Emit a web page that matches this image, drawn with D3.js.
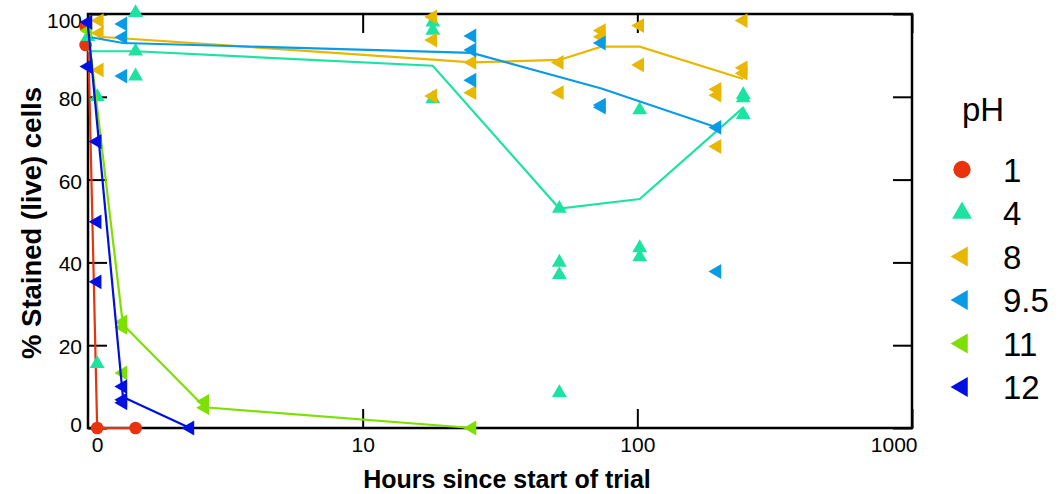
<!DOCTYPE html>
<html>
<head>
<meta charset="utf-8">
<script src="https://cdn.jsdelivr.net/npm/d3@7"></script>
<style>
  body { margin: 0; background: #fff; }
  text { font-family: "Liberation Sans", Arial, sans-serif; }
</style>
</head>
<body>
<div id="chart"></div>
<script>
// pH levels and how each one is drawn
const phLevels = ["1", "4", "8", "9.5", "11", "12"];
const phColors = ["#e8330c", "#1de3a0", "#e8b800", "#0a9be6", "#7ee000", "#0010e0"];
const phShapes = ["circle", "up", "left", "left", "left", "left"];

// replicate points [hours, % stained] and the mean line for each pH
const ph1Points = [[0.98, 97], [0.98, 92.5], [1.08, 0], [1.49, 0]];
const ph1Line = [[1.0, 96], [1.08, 0], [1.49, 0]];

const ph4Points = [[1.0, 94.5], [1.08, 80], [1.08, 15.5], [1.49, 100.3], [1.49, 91], [1.49, 85],
  [18, 98], [18, 96], [18, 79.5], [52, 53], [52, 40], [52, 37], [52, 8.5],
  [102, 76.8], [102, 43.5], [102, 41.3], [243, 80.5], [243, 79.7], [243, 75.7]];
const ph4Line = [[1.0, 91], [1.49, 91], [18, 87.5], [52, 53], [102, 55.3], [243, 77.4]];

const ph8Points = [[1.1, 98.4], [1.1, 95.4], [1.1, 86.5], [18, 99.3], [18, 93.7], [18, 80.2],
  [25, 88.3], [25, 81], [52, 88.3], [52, 81], [74, 96], [74, 94.5], [102, 97.2], [102, 87.7],
  [195, 81.8], [195, 80.4], [195, 68], [243, 98.4], [243, 87], [243, 85.7]];
const ph8Line = [[1.1, 94.5], [18, 89], [25, 88.3], [52, 88.9], [74, 92.1], [102, 92.1], [243, 84.3]];

const ph95Points = [[1.34, 97.6], [1.34, 94.4], [1.34, 85], [25, 94.7], [25, 91.3], [25, 84],
  [74, 93], [74, 78], [74, 77.5], [195, 72.6], [195, 37.8]];
const ph95Line = [[1.0, 94.5], [1.34, 93], [25, 90.6], [74, 82], [195, 72.6]];

const ph11Points = [[1.0, 96], [1.34, 25.6], [1.34, 24.3], [1.34, 13.3], [2.66, 6.4], [2.66, 4.9], [25, 0]];
const ph11Line = [[1.0, 96], [1.34, 25], [2.66, 5], [25, 0]];

const ph12Points = [[1.0, 98], [1.0, 87.3], [1.08, 69.2], [1.08, 49.8], [1.08, 35.3],
  [1.34, 10], [1.34, 6.8], [1.34, 6.1], [2.35, 0]];
const ph12Line = [[1.0, 97], [1.34, 7.5], [2.35, 0]];

// axis ticks (the first sample time is labelled 0)
const xTickValues = [1.08, 10, 100, 1000];
const xTickLabels = ["0", "10", "100", "1000"];
const yTickValues = [0, 20, 40, 60, 80, 100];

const series = phLevels.map((ph, i) => ({
  ph: ph,
  color: phColors[i],
  shape: phShapes[i],
  points: [ph1Points, ph4Points, ph8Points, ph95Points, ph11Points, ph12Points][i],
  line: [ph1Line, ph4Line, ph8Line, ph95Line, ph11Line, ph12Line][i]
}));

const width = 1060, height = 494;
const plot = {left: 88, right: 912, top: 14, bottom: 428};

const svg = d3.select("#chart").append("svg")
    .attr("width", width)
    .attr("height", height);

const x = d3.scaleLog().domain([1, 1000]).range([plot.left, plot.right]);
const y = d3.scaleLinear().domain([0, 100]).range([plot.bottom, plot.top]);

// axes with inward ticks on all four sides
const tick = 19;
const fmtX = (d, i) => xTickLabels[i];

const gBottom = svg.append("g")
    .attr("transform", `translate(0,${plot.bottom})`)
    .call(d3.axisBottom(x).tickValues(xTickValues).tickFormat(fmtX)
      .tickSizeInner(-tick).tickSizeOuter(0).tickPadding(9));
const gTop = svg.append("g")
    .attr("transform", `translate(0,${plot.top})`)
    .call(d3.axisTop(x).tickValues(xTickValues.slice(1)).tickFormat("")
      .tickSizeInner(-tick).tickSizeOuter(0));
const gLeft = svg.append("g")
    .attr("transform", `translate(${plot.left},0)`)
    .call(d3.axisLeft(y).tickValues(yTickValues)
      .tickSizeInner(-tick).tickSizeOuter(0).tickPadding(6));
const gRight = svg.append("g")
    .attr("transform", `translate(${plot.right},0)`)
    .call(d3.axisRight(y).tickValues(yTickValues).tickFormat("")
      .tickSizeInner(-tick).tickSizeOuter(0));

[gBottom, gTop, gLeft, gRight].forEach(g => {
  g.select(".domain").remove();
  g.selectAll(".tick line").attr("stroke", "#000").attr("stroke-width", 2);
  g.selectAll("text").attr("font-size", 21).attr("fill", "#000")
    .attr("font-family", '"Liberation Sans", Arial, sans-serif');
});
// no tick mark under the "0" label
gBottom.selectAll(".tick").filter(d => d < 2).select("line").remove();
// last x label stays inside the frame
gBottom.selectAll(".tick").filter(d => d === 1000).select("text")
    .attr("text-anchor", "end").attr("dx", 5);
// pull the end labels of the y axis slightly inward, like the original
gLeft.selectAll(".tick text").attr("dy", d => d === 100 ? "0.62em" : d === 0 ? "0.18em" : "0.4em");

// frame
svg.append("rect")
    .attr("x", plot.left)
    .attr("y", plot.top)
    .attr("width", plot.right - plot.left)
    .attr("height", plot.bottom - plot.top)
    .attr("fill", "none")
    .attr("stroke", "#000")
    .attr("stroke-width", 2.5);

const symbolPath = (shape, big) => {
  if (shape === "circle") return d3.symbol(d3.symbolCircle, big ? 235 : 125)();
  return d3.symbol(d3.symbolTriangle, big ? 170 : 95)();
};
const rot = shape => shape === "left" ? " rotate(-90)" : "";

const line = d3.line().x(d => x(d[0])).y(d => y(d[1]));

series.forEach(s => {
  const g = svg.append("g");
  g.append("path")
      .datum(s.line)
      .attr("d", line)
      .attr("fill", "none")
      .attr("stroke", s.color)
      .attr("stroke-width", 2.2);
  g.selectAll("path.pt")
    .data(s.points)
    .join("path")
      .attr("class", "pt")
      .attr("d", symbolPath(s.shape, false))
      .attr("transform", d => `translate(${x(d[0])},${y(d[1])})` + rot(s.shape))
      .attr("fill", s.color);
});

// axis titles
svg.append("text")
    .attr("x", 507)
    .attr("y", 488)
    .attr("text-anchor", "middle")
    .attr("font-size", 25)
    .attr("font-weight", "bold")
    .text("Hours since start of trial");

svg.append("text")
    .attr("transform", `translate(41,${(plot.top + plot.bottom) / 2 + 2}) rotate(-90)`)
    .attr("text-anchor", "middle")
    .attr("font-size", 27.5)
    .attr("font-weight", "bold")
    .text("% Stained (live) cells");

// legend
const legend = svg.append("g");
legend.append("text")
    .attr("x", 962)
    .attr("y", 121)
    .attr("font-size", 33)
    .text("pH");

const item = legend.selectAll("g.item")
  .data(series)
  .join("g")
    .attr("class", "item")
    .attr("transform", (d, i) => `translate(962,${169.5 + i * 43.5})`);
item.append("path")
    .attr("d", d => symbolPath(d.shape, true))
    .attr("transform", d => rot(d.shape).trim())
    .attr("fill", d => d.color);
item.append("text")
    .attr("x", 41)
    .attr("y", 12)
    .attr("font-size", 33)
    .text(d => d.ph);
</script>
</body>
</html>
